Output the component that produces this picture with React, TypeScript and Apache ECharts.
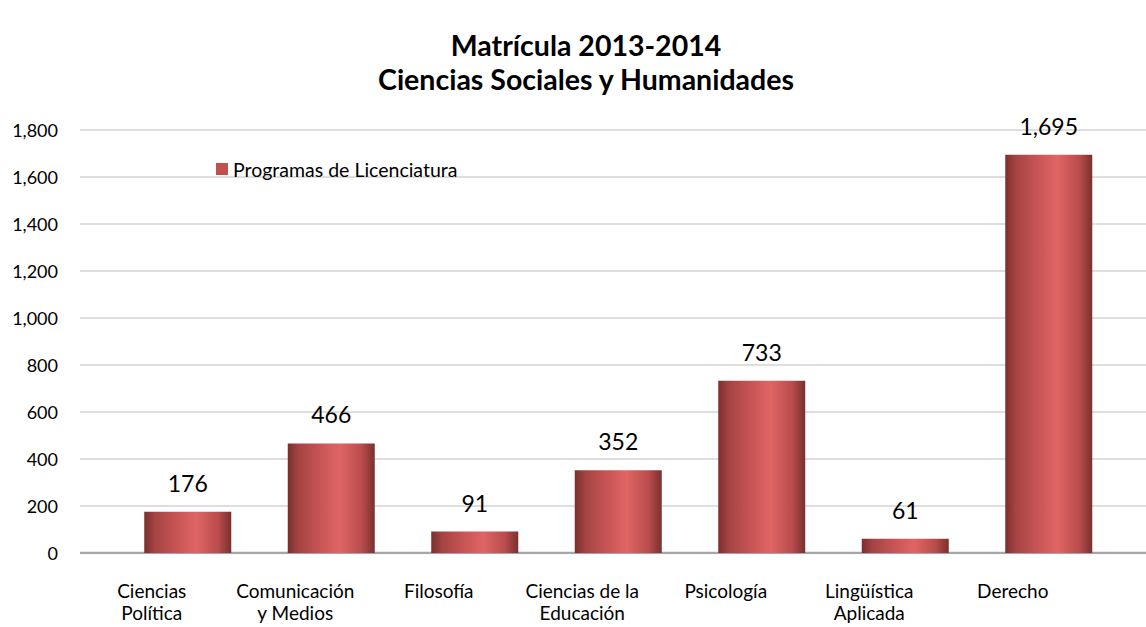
import React, { useEffect, useRef } from "react";
import * as echarts from "echarts";

const categories = [
  "Ciencias\nPolítica",
  "Comunicación\ny Medios",
  "Filosofía",
  "Ciencias de la\nEducación",
  "Psicología",
  "Lingüística\nAplicada",
  "Derecho",
];
const values = [176, 466, 91, 352, 733, 61, 1695];
const yTicks = { min: 0, max: 1800, interval: 200 };
const seriesName = "Programas de Licenciatura";
const titleLines = ["Matrícula 2013-2014", "Ciencias Sociales y Humanidades"];

const FONT = "Lato, 'Open Sans', sans-serif";

export default function App() {
  const ref = useRef<HTMLDivElement>(null);
  useEffect(() => {
    if (!ref.current) return;
    const chart = echarts.init(ref.current, null, { renderer: "svg" });
    const fmt = (v: number) => v.toLocaleString("en-US");
    const barGradient = new echarts.graphic.LinearGradient(0, 0, 1, 0, [
      { offset: 0, color: "#7b2e2e" },
      { offset: 0.12, color: "#a54343" },
      { offset: 0.35, color: "#c55353" },
      { offset: 0.6, color: "#e06565" },
      { offset: 0.85, color: "#b94c4c" },
      { offset: 1, color: "#7a3030" },
    ]);
    chart.setOption({
      animation: false,
      backgroundColor: "#ffffff",
      title: {
        text: titleLines.join("\n"),
        left: 586,
        textAlign: "center",
        top: 28,
        padding: 0,
        textStyle: {
          fontFamily: FONT,
          fontWeight: "bold",
          fontSize: 28.5,
          lineHeight: 34,
          color: "#000",
        },
      },
      legend: {
        data: [{ name: seriesName, icon: "rect", itemStyle: { color: "#c0504d" } }],
        left: 211,
        top: 154,
        itemWidth: 12,
        itemHeight: 12,
        itemGap: 5,
        textStyle: { fontFamily: FONT, fontSize: 19.5, color: "#000" },
      },
      grid: [
        { left: 80, right: 0, top: 130, bottom: 74 },
        { left: 80, width: 1004.5, top: 130, bottom: 74 },
        { left: 116, width: 1004.5, top: 130, bottom: 74 },
      ],
      xAxis: [
        {
          gridIndex: 0,
          type: "value",
          min: 0,
          max: 1,
          show: true,
          axisLine: { show: false },
          axisTick: { show: false },
          axisLabel: { show: false },
          splitLine: { show: false },
        },
        {
          gridIndex: 1,
          type: "category",
          data: categories,
          axisLine: { show: false },
          axisTick: { show: false },
          axisLabel: {
            margin: 26,
            fontFamily: FONT,
            fontSize: 19,
            lineHeight: 22,
            color: "#000",
            interval: 0,
          },
        },
        {
          gridIndex: 2,
          type: "category",
          data: categories,
          show: false,
        },
      ],
      yAxis: [
        {
          gridIndex: 0,
          type: "value",
          min: yTicks.min,
          max: yTicks.max,
          interval: yTicks.interval,
          axisLine: { show: false },
          axisTick: { show: false },
          axisLabel: {
            margin: 22,
            fontFamily: FONT,
            fontSize: 18,
            color: "#000",
            formatter: (v: number) => fmt(v),
          },
          splitLine: {
            show: true,
            lineStyle: { color: "#dedede", width: 2 },
          },
        },
        {
          gridIndex: 1,
          type: "value",
          min: yTicks.min,
          max: yTicks.max,
          interval: yTicks.interval,
          show: false,
        },
        {
          gridIndex: 2,
          type: "value",
          min: yTicks.min,
          max: yTicks.max,
          interval: yTicks.interval,
          show: false,
        },
      ],
      series: [
        {
          name: seriesName,
          type: "bar",
          xAxisIndex: 2,
          yAxisIndex: 2,
          data: values,
          barWidth: 87,
          itemStyle: {
            color: barGradient,
          },
          label: {
            show: true,
            position: "top",
            distance: 17.5,
            fontFamily: FONT,
            fontSize: 23,
            color: "#000",
            formatter: (p: any) => fmt(p.value),
          },
          z: 3,
        },
        {
          type: "line",
          xAxisIndex: 0,
          yAxisIndex: 0,
          data: [
            [0, 0],
            [1, 0],
          ],
          symbol: "none",
          silent: true,
          lineStyle: { color: "#a6a6a6", width: 2.5 },
          z: 2,
        },
      ],
      color: ["#c0504d"],
    });
    return () => chart.dispose();
  }, []);
  return <div ref={ref} style={{ width: 1146, height: 627, position: "absolute", left: 0, top: 0 }} />;
}
